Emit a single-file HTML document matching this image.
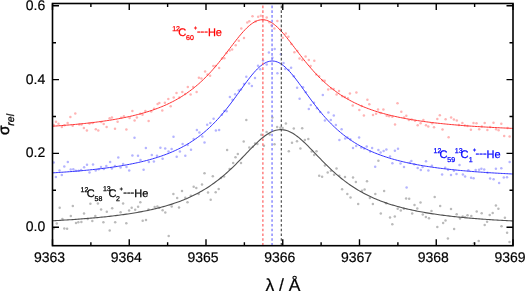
<!DOCTYPE html>
<html><head><meta charset="utf-8"><style>
html,body{margin:0;padding:0;background:#fff;}
body{width:525px;height:291px;overflow:hidden;}
svg{display:block;will-change:transform;}
text{font-family:"Liberation Sans",sans-serif;text-rendering:geometricPrecision;}
</style></head><body>
<svg width="525" height="291" viewBox="0 0 525 291">
<g fill="#ffb4b4"><circle cx="53.7" cy="125.0" r="1.25"/><circle cx="56.0" cy="121.7" r="1.25"/><circle cx="58.5" cy="123.7" r="1.25"/><circle cx="61.9" cy="127.1" r="1.25"/><circle cx="64.4" cy="125.2" r="1.25"/><circle cx="67.6" cy="123.1" r="1.25"/><circle cx="70.4" cy="116.9" r="1.25"/><circle cx="72.7" cy="125.8" r="1.25"/><circle cx="75.3" cy="113.6" r="1.25"/><circle cx="79.2" cy="124.5" r="1.25"/><circle cx="81.5" cy="124.4" r="1.25"/><circle cx="83.9" cy="128.1" r="1.25"/><circle cx="86.9" cy="130.5" r="1.25"/><circle cx="89.5" cy="123.4" r="1.25"/><circle cx="92.7" cy="122.9" r="1.25"/><circle cx="95.8" cy="129.2" r="1.25"/><circle cx="98.3" cy="130.5" r="1.25"/><circle cx="101.2" cy="122.1" r="1.25"/><circle cx="103.7" cy="124.1" r="1.25"/><circle cx="106.6" cy="126.9" r="1.25"/><circle cx="109.6" cy="118.2" r="1.25"/><circle cx="111.9" cy="117.4" r="1.25"/><circle cx="115.0" cy="128.7" r="1.25"/><circle cx="117.6" cy="121.7" r="1.25"/><circle cx="121.1" cy="117.8" r="1.25"/><circle cx="123.9" cy="116.3" r="1.25"/><circle cx="126.4" cy="129.6" r="1.25"/><circle cx="129.6" cy="118.0" r="1.25"/><circle cx="132.4" cy="111.1" r="1.25"/><circle cx="134.6" cy="120.4" r="1.25"/><circle cx="136.9" cy="117.6" r="1.25"/><circle cx="140.4" cy="113.8" r="1.25"/><circle cx="142.5" cy="114.7" r="1.25"/><circle cx="145.4" cy="111.1" r="1.25"/><circle cx="148.6" cy="121.1" r="1.25"/><circle cx="151.3" cy="111.4" r="1.25"/><circle cx="154.1" cy="108.7" r="1.25"/><circle cx="157.6" cy="103.9" r="1.25"/><circle cx="159.3" cy="103.1" r="1.25"/><circle cx="162.3" cy="110.6" r="1.25"/><circle cx="164.9" cy="102.8" r="1.25"/><circle cx="168.3" cy="98.9" r="1.25"/><circle cx="170.7" cy="106.2" r="1.25"/><circle cx="173.7" cy="97.5" r="1.25"/><circle cx="176.5" cy="93.0" r="1.25"/><circle cx="179.4" cy="97.6" r="1.25"/><circle cx="182.3" cy="91.9" r="1.25"/><circle cx="185.2" cy="94.0" r="1.25"/><circle cx="187.8" cy="87.0" r="1.25"/><circle cx="190.6" cy="94.6" r="1.25"/><circle cx="193.2" cy="87.0" r="1.25"/><circle cx="196.6" cy="91.9" r="1.25"/><circle cx="198.9" cy="77.7" r="1.25"/><circle cx="201.4" cy="78.5" r="1.25"/><circle cx="205.1" cy="71.6" r="1.25"/><circle cx="207.5" cy="74.5" r="1.25"/><circle cx="210.1" cy="75.8" r="1.25"/><circle cx="213.3" cy="65.9" r="1.25"/><circle cx="215.4" cy="66.1" r="1.25"/><circle cx="219.1" cy="68.0" r="1.25"/><circle cx="222.0" cy="58.4" r="1.25"/><circle cx="224.3" cy="58.3" r="1.25"/><circle cx="226.5" cy="52.9" r="1.25"/><circle cx="229.6" cy="50.4" r="1.25"/><circle cx="232.1" cy="49.4" r="1.25"/><circle cx="235.7" cy="45.2" r="1.25"/><circle cx="238.8" cy="40.8" r="1.25"/><circle cx="241.3" cy="28.5" r="1.25"/><circle cx="244.0" cy="38.0" r="1.25"/><circle cx="247.3" cy="22.6" r="1.25"/><circle cx="249.3" cy="21.3" r="1.25"/><circle cx="252.5" cy="16.2" r="1.25"/><circle cx="255.5" cy="21.6" r="1.25"/><circle cx="258.2" cy="16.7" r="1.25"/><circle cx="260.8" cy="15.7" r="1.25"/><circle cx="263.0" cy="19.5" r="1.25"/><circle cx="266.7" cy="17.5" r="1.25"/><circle cx="269.4" cy="22.2" r="1.25"/><circle cx="271.5" cy="25.4" r="1.25"/><circle cx="274.4" cy="28.4" r="1.25"/><circle cx="277.4" cy="20.9" r="1.25"/><circle cx="280.5" cy="29.6" r="1.25"/><circle cx="282.7" cy="37.7" r="1.25"/><circle cx="285.8" cy="33.4" r="1.25"/><circle cx="288.4" cy="36.7" r="1.25"/><circle cx="291.4" cy="44.0" r="1.25"/><circle cx="294.4" cy="52.3" r="1.25"/><circle cx="297.4" cy="51.0" r="1.25"/><circle cx="299.5" cy="58.6" r="1.25"/><circle cx="302.4" cy="60.1" r="1.25"/><circle cx="305.6" cy="56.5" r="1.25"/><circle cx="308.8" cy="60.0" r="1.25"/><circle cx="310.6" cy="65.9" r="1.25"/><circle cx="314.3" cy="60.8" r="1.25"/><circle cx="316.2" cy="74.4" r="1.25"/><circle cx="319.1" cy="76.3" r="1.25"/><circle cx="322.6" cy="80.5" r="1.25"/><circle cx="324.7" cy="80.8" r="1.25"/><circle cx="328.2" cy="89.6" r="1.25"/><circle cx="331.1" cy="88.4" r="1.25"/><circle cx="333.7" cy="89.0" r="1.25"/><circle cx="336.6" cy="94.5" r="1.25"/><circle cx="339.0" cy="91.0" r="1.25"/><circle cx="342.3" cy="96.2" r="1.25"/><circle cx="344.8" cy="97.1" r="1.25"/><circle cx="347.9" cy="98.3" r="1.25"/><circle cx="349.9" cy="93.5" r="1.25"/><circle cx="352.7" cy="105.6" r="1.25"/><circle cx="356.4" cy="92.4" r="1.25"/><circle cx="359.3" cy="109.9" r="1.25"/><circle cx="361.6" cy="106.0" r="1.25"/><circle cx="363.9" cy="115.6" r="1.25"/><circle cx="367.4" cy="99.8" r="1.25"/><circle cx="369.3" cy="104.3" r="1.25"/><circle cx="373.0" cy="115.0" r="1.25"/><circle cx="376.1" cy="113.7" r="1.25"/><circle cx="378.0" cy="109.4" r="1.25"/><circle cx="380.6" cy="113.1" r="1.25"/><circle cx="383.4" cy="109.5" r="1.25"/><circle cx="386.7" cy="115.7" r="1.25"/><circle cx="389.2" cy="116.3" r="1.25"/><circle cx="392.3" cy="116.7" r="1.25"/><circle cx="395.0" cy="124.4" r="1.25"/><circle cx="397.5" cy="103.2" r="1.25"/><circle cx="401.3" cy="111.7" r="1.25"/><circle cx="404.1" cy="117.6" r="1.25"/><circle cx="406.3" cy="115.8" r="1.25"/><circle cx="408.9" cy="120.1" r="1.25"/><circle cx="411.6" cy="119.4" r="1.25"/><circle cx="415.0" cy="120.7" r="1.25"/><circle cx="417.7" cy="125.2" r="1.25"/><circle cx="420.6" cy="123.2" r="1.25"/><circle cx="423.4" cy="120.0" r="1.25"/><circle cx="426.0" cy="125.2" r="1.25"/><circle cx="428.3" cy="126.4" r="1.25"/><circle cx="432.1" cy="123.3" r="1.25"/><circle cx="434.0" cy="127.2" r="1.25"/><circle cx="437.3" cy="119.1" r="1.25"/><circle cx="439.8" cy="115.3" r="1.25"/><circle cx="442.5" cy="129.5" r="1.25"/><circle cx="445.6" cy="119.2" r="1.25"/><circle cx="448.6" cy="137.3" r="1.25"/><circle cx="451.1" cy="117.4" r="1.25"/><circle cx="453.9" cy="119.4" r="1.25"/><circle cx="456.8" cy="120.6" r="1.25"/><circle cx="458.9" cy="125.0" r="1.25"/><circle cx="462.4" cy="123.0" r="1.25"/><circle cx="464.8" cy="125.5" r="1.25"/><circle cx="467.5" cy="125.9" r="1.25"/><circle cx="470.9" cy="129.8" r="1.25"/><circle cx="473.5" cy="122.9" r="1.25"/><circle cx="476.5" cy="123.3" r="1.25"/><circle cx="479.2" cy="129.3" r="1.25"/><circle cx="481.8" cy="126.4" r="1.25"/><circle cx="484.7" cy="123.1" r="1.25"/><circle cx="487.4" cy="130.0" r="1.25"/><circle cx="490.2" cy="127.1" r="1.25"/><circle cx="493.5" cy="122.8" r="1.25"/><circle cx="496.1" cy="129.3" r="1.25"/><circle cx="498.6" cy="130.3" r="1.25"/><circle cx="501.3" cy="123.7" r="1.25"/><circle cx="504.2" cy="136.0" r="1.25"/><circle cx="507.6" cy="128.0" r="1.25"/><circle cx="509.6" cy="136.5" r="1.25"/></g>
<g fill="#b4b4ff"><circle cx="53.7" cy="162.6" r="1.25"/><circle cx="55.9" cy="177.0" r="1.25"/><circle cx="59.5" cy="170.5" r="1.25"/><circle cx="61.8" cy="175.0" r="1.25"/><circle cx="64.3" cy="166.4" r="1.25"/><circle cx="67.8" cy="162.0" r="1.25"/><circle cx="70.7" cy="169.5" r="1.25"/><circle cx="73.3" cy="169.3" r="1.25"/><circle cx="75.8" cy="170.7" r="1.25"/><circle cx="78.7" cy="170.7" r="1.25"/><circle cx="81.1" cy="170.0" r="1.25"/><circle cx="84.1" cy="167.2" r="1.25"/><circle cx="87.0" cy="164.7" r="1.25"/><circle cx="89.5" cy="172.4" r="1.25"/><circle cx="93.0" cy="164.5" r="1.25"/><circle cx="95.7" cy="170.5" r="1.25"/><circle cx="98.6" cy="169.3" r="1.25"/><circle cx="101.0" cy="167.1" r="1.25"/><circle cx="103.8" cy="169.1" r="1.25"/><circle cx="106.3" cy="166.0" r="1.25"/><circle cx="110.1" cy="161.9" r="1.25"/><circle cx="111.9" cy="168.5" r="1.25"/><circle cx="115.0" cy="166.0" r="1.25"/><circle cx="118.3" cy="157.5" r="1.25"/><circle cx="120.6" cy="167.4" r="1.25"/><circle cx="123.1" cy="164.1" r="1.25"/><circle cx="126.5" cy="167.0" r="1.25"/><circle cx="129.2" cy="170.6" r="1.25"/><circle cx="132.4" cy="155.5" r="1.25"/><circle cx="134.5" cy="137.8" r="1.25"/><circle cx="138.0" cy="155.7" r="1.25"/><circle cx="140.5" cy="160.0" r="1.25"/><circle cx="143.6" cy="169.7" r="1.25"/><circle cx="145.9" cy="148.0" r="1.25"/><circle cx="148.9" cy="162.0" r="1.25"/><circle cx="151.8" cy="155.0" r="1.25"/><circle cx="153.9" cy="161.6" r="1.25"/><circle cx="157.0" cy="155.8" r="1.25"/><circle cx="160.4" cy="147.7" r="1.25"/><circle cx="162.6" cy="158.7" r="1.25"/><circle cx="165.2" cy="148.6" r="1.25"/><circle cx="168.5" cy="151.6" r="1.25"/><circle cx="171.6" cy="148.9" r="1.25"/><circle cx="173.5" cy="136.7" r="1.25"/><circle cx="176.7" cy="156.7" r="1.25"/><circle cx="179.9" cy="151.4" r="1.25"/><circle cx="182.6" cy="144.0" r="1.25"/><circle cx="185.3" cy="155.8" r="1.25"/><circle cx="187.7" cy="145.1" r="1.25"/><circle cx="191.0" cy="149.8" r="1.25"/><circle cx="193.7" cy="139.1" r="1.25"/><circle cx="196.9" cy="130.0" r="1.25"/><circle cx="199.4" cy="132.6" r="1.25"/><circle cx="202.3" cy="136.4" r="1.25"/><circle cx="204.5" cy="142.4" r="1.25"/><circle cx="207.2" cy="124.8" r="1.25"/><circle cx="210.3" cy="123.1" r="1.25"/><circle cx="213.6" cy="118.7" r="1.25"/><circle cx="215.9" cy="130.4" r="1.25"/><circle cx="219.1" cy="129.9" r="1.25"/><circle cx="221.9" cy="114.8" r="1.25"/><circle cx="224.3" cy="110.9" r="1.25"/><circle cx="226.6" cy="111.2" r="1.25"/><circle cx="229.9" cy="97.0" r="1.25"/><circle cx="232.5" cy="99.7" r="1.25"/><circle cx="235.1" cy="94.3" r="1.25"/><circle cx="238.8" cy="90.5" r="1.25"/><circle cx="240.9" cy="89.5" r="1.25"/><circle cx="244.0" cy="84.1" r="1.25"/><circle cx="246.3" cy="76.7" r="1.25"/><circle cx="249.1" cy="83.6" r="1.25"/><circle cx="251.9" cy="86.0" r="1.25"/><circle cx="255.0" cy="77.9" r="1.25"/><circle cx="258.0" cy="65.7" r="1.25"/><circle cx="260.2" cy="69.3" r="1.25"/><circle cx="263.0" cy="60.4" r="1.25"/><circle cx="266.7" cy="64.5" r="1.25"/><circle cx="268.9" cy="52.5" r="1.25"/><circle cx="272.4" cy="57.7" r="1.25"/><circle cx="274.7" cy="49.0" r="1.25"/><circle cx="277.4" cy="73.2" r="1.25"/><circle cx="280.9" cy="54.2" r="1.25"/><circle cx="283.5" cy="63.0" r="1.25"/><circle cx="285.3" cy="69.0" r="1.25"/><circle cx="288.6" cy="69.9" r="1.25"/><circle cx="291.1" cy="67.8" r="1.25"/><circle cx="293.8" cy="76.3" r="1.25"/><circle cx="297.1" cy="87.7" r="1.25"/><circle cx="299.6" cy="98.7" r="1.25"/><circle cx="303.0" cy="87.2" r="1.25"/><circle cx="305.8" cy="92.2" r="1.25"/><circle cx="308.8" cy="108.9" r="1.25"/><circle cx="310.8" cy="104.9" r="1.25"/><circle cx="314.0" cy="102.7" r="1.25"/><circle cx="317.0" cy="108.2" r="1.25"/><circle cx="320.1" cy="111.9" r="1.25"/><circle cx="322.8" cy="95.0" r="1.25"/><circle cx="324.9" cy="120.6" r="1.25"/><circle cx="328.4" cy="112.6" r="1.25"/><circle cx="330.8" cy="119.9" r="1.25"/><circle cx="333.8" cy="115.4" r="1.25"/><circle cx="335.9" cy="124.9" r="1.25"/><circle cx="339.4" cy="139.9" r="1.25"/><circle cx="341.6" cy="129.3" r="1.25"/><circle cx="345.2" cy="138.5" r="1.25"/><circle cx="347.4" cy="137.5" r="1.25"/><circle cx="350.3" cy="139.2" r="1.25"/><circle cx="353.0" cy="148.0" r="1.25"/><circle cx="356.2" cy="145.9" r="1.25"/><circle cx="359.1" cy="137.6" r="1.25"/><circle cx="361.2" cy="147.6" r="1.25"/><circle cx="364.1" cy="148.6" r="1.25"/><circle cx="366.7" cy="146.5" r="1.25"/><circle cx="370.2" cy="151.4" r="1.25"/><circle cx="372.1" cy="147.9" r="1.25"/><circle cx="375.2" cy="166.7" r="1.25"/><circle cx="378.4" cy="149.9" r="1.25"/><circle cx="380.6" cy="152.6" r="1.25"/><circle cx="383.6" cy="151.1" r="1.25"/><circle cx="386.4" cy="149.5" r="1.25"/><circle cx="390.0" cy="156.4" r="1.25"/><circle cx="392.4" cy="163.2" r="1.25"/><circle cx="394.9" cy="150.7" r="1.25"/><circle cx="398.0" cy="148.7" r="1.25"/><circle cx="400.5" cy="163.4" r="1.25"/><circle cx="404.0" cy="167.0" r="1.25"/><circle cx="406.6" cy="187.6" r="1.25"/><circle cx="409.7" cy="162.8" r="1.25"/><circle cx="411.4" cy="161.0" r="1.25"/><circle cx="414.4" cy="164.3" r="1.25"/><circle cx="417.7" cy="168.0" r="1.25"/><circle cx="420.8" cy="170.0" r="1.25"/><circle cx="422.6" cy="167.0" r="1.25"/><circle cx="426.0" cy="161.3" r="1.25"/><circle cx="428.4" cy="170.6" r="1.25"/><circle cx="431.9" cy="165.7" r="1.25"/><circle cx="442.1" cy="174.5" r="1.25"/><circle cx="445.2" cy="167.7" r="1.25"/><circle cx="448.1" cy="169.7" r="1.25"/><circle cx="451.0" cy="175.1" r="1.25"/><circle cx="453.9" cy="170.8" r="1.25"/><circle cx="456.5" cy="174.0" r="1.25"/><circle cx="459.5" cy="165.1" r="1.25"/><circle cx="462.9" cy="174.4" r="1.25"/><circle cx="465.1" cy="176.4" r="1.25"/><circle cx="468.4" cy="170.2" r="1.25"/><circle cx="471.1" cy="177.7" r="1.25"/><circle cx="473.6" cy="178.3" r="1.25"/><circle cx="475.7" cy="169.9" r="1.25"/><circle cx="479.1" cy="169.7" r="1.25"/><circle cx="481.4" cy="168.8" r="1.25"/><circle cx="484.2" cy="169.5" r="1.25"/><circle cx="487.5" cy="172.7" r="1.25"/><circle cx="490.1" cy="178.6" r="1.25"/><circle cx="493.6" cy="179.3" r="1.25"/><circle cx="495.9" cy="168.7" r="1.25"/><circle cx="499.1" cy="183.1" r="1.25"/><circle cx="501.3" cy="168.3" r="1.25"/><circle cx="503.8" cy="177.4" r="1.25"/><circle cx="507.0" cy="177.2" r="1.25"/><circle cx="509.6" cy="161.9" r="1.25"/></g>
<g fill="#bababa"><circle cx="53.7" cy="228.4" r="1.25"/><circle cx="56.8" cy="223.5" r="1.25"/><circle cx="59.7" cy="207.8" r="1.25"/><circle cx="62.4" cy="219.0" r="1.25"/><circle cx="64.3" cy="228.5" r="1.25"/><circle cx="67.1" cy="228.7" r="1.25"/><circle cx="70.8" cy="216.0" r="1.25"/><circle cx="72.8" cy="205.9" r="1.25"/><circle cx="76.0" cy="223.0" r="1.25"/><circle cx="78.3" cy="222.3" r="1.25"/><circle cx="81.4" cy="221.9" r="1.25"/><circle cx="84.0" cy="213.4" r="1.25"/><circle cx="87.6" cy="218.9" r="1.25"/><circle cx="90.4" cy="203.8" r="1.25"/><circle cx="92.3" cy="221.0" r="1.25"/><circle cx="95.3" cy="216.0" r="1.25"/><circle cx="97.9" cy="203.5" r="1.25"/><circle cx="101.1" cy="209.5" r="1.25"/><circle cx="103.4" cy="222.2" r="1.25"/><circle cx="106.8" cy="211.8" r="1.25"/><circle cx="109.7" cy="230.4" r="1.25"/><circle cx="112.2" cy="208.2" r="1.25"/><circle cx="115.2" cy="222.3" r="1.25"/><circle cx="120.6" cy="212.2" r="1.25"/><circle cx="123.1" cy="203.6" r="1.25"/><circle cx="126.3" cy="223.3" r="1.25"/><circle cx="129.1" cy="210.5" r="1.25"/><circle cx="131.7" cy="207.8" r="1.25"/><circle cx="135.2" cy="209.8" r="1.25"/><circle cx="138.1" cy="206.7" r="1.25"/><circle cx="140.3" cy="202.3" r="1.25"/><circle cx="142.7" cy="220.8" r="1.25"/><circle cx="146.0" cy="220.0" r="1.25"/><circle cx="148.5" cy="209.4" r="1.25"/><circle cx="154.7" cy="207.0" r="1.25"/><circle cx="157.4" cy="206.5" r="1.25"/><circle cx="159.4" cy="207.7" r="1.25"/><circle cx="162.6" cy="210.2" r="1.25"/><circle cx="165.3" cy="212.5" r="1.25"/><circle cx="168.7" cy="236.1" r="1.25"/><circle cx="171.7" cy="206.6" r="1.25"/><circle cx="173.4" cy="194.1" r="1.25"/><circle cx="177.2" cy="198.0" r="1.25"/><circle cx="179.0" cy="207.6" r="1.25"/><circle cx="182.0" cy="190.9" r="1.25"/><circle cx="185.3" cy="197.7" r="1.25"/><circle cx="187.5" cy="202.2" r="1.25"/><circle cx="190.8" cy="195.7" r="1.25"/><circle cx="193.7" cy="186.7" r="1.25"/><circle cx="196.3" cy="188.1" r="1.25"/><circle cx="198.6" cy="194.1" r="1.25"/><circle cx="202.0" cy="184.6" r="1.25"/><circle cx="204.5" cy="173.3" r="1.25"/><circle cx="208.0" cy="192.4" r="1.25"/><circle cx="210.7" cy="199.7" r="1.25"/><circle cx="212.8" cy="176.2" r="1.25"/><circle cx="215.7" cy="192.3" r="1.25"/><circle cx="218.7" cy="188.9" r="1.25"/><circle cx="221.0" cy="178.1" r="1.25"/><circle cx="224.1" cy="176.6" r="1.25"/><circle cx="227.1" cy="150.1" r="1.25"/><circle cx="229.6" cy="168.9" r="1.25"/><circle cx="233.2" cy="162.9" r="1.25"/><circle cx="235.5" cy="157.2" r="1.25"/><circle cx="237.8" cy="154.1" r="1.25"/><circle cx="241.0" cy="163.0" r="1.25"/><circle cx="243.7" cy="141.6" r="1.25"/><circle cx="246.3" cy="120.1" r="1.25"/><circle cx="249.3" cy="147.4" r="1.25"/><circle cx="252.8" cy="146.7" r="1.25"/><circle cx="255.0" cy="143.4" r="1.25"/><circle cx="257.4" cy="144.1" r="1.25"/><circle cx="261.3" cy="134.8" r="1.25"/><circle cx="263.9" cy="145.7" r="1.25"/><circle cx="266.6" cy="132.1" r="1.25"/><circle cx="269.7" cy="134.5" r="1.25"/><circle cx="272.4" cy="117.5" r="1.25"/><circle cx="274.5" cy="144.2" r="1.25"/><circle cx="277.1" cy="127.1" r="1.25"/><circle cx="280.4" cy="127.7" r="1.25"/><circle cx="282.6" cy="128.1" r="1.25"/><circle cx="285.9" cy="123.5" r="1.25"/><circle cx="288.8" cy="151.2" r="1.25"/><circle cx="292.0" cy="142.8" r="1.25"/><circle cx="293.8" cy="128.5" r="1.25"/><circle cx="297.0" cy="141.3" r="1.25"/><circle cx="300.4" cy="148.4" r="1.25"/><circle cx="302.2" cy="128.2" r="1.25"/><circle cx="304.9" cy="140.0" r="1.25"/><circle cx="308.3" cy="138.9" r="1.25"/><circle cx="311.7" cy="151.6" r="1.25"/><circle cx="314.2" cy="155.1" r="1.25"/><circle cx="316.5" cy="151.2" r="1.25"/><circle cx="319.2" cy="175.7" r="1.25"/><circle cx="322.1" cy="176.8" r="1.25"/><circle cx="324.9" cy="165.4" r="1.25"/><circle cx="327.7" cy="172.6" r="1.25"/><circle cx="330.9" cy="170.7" r="1.25"/><circle cx="334.1" cy="174.8" r="1.25"/><circle cx="336.5" cy="168.6" r="1.25"/><circle cx="339.3" cy="175.8" r="1.25"/><circle cx="342.1" cy="189.2" r="1.25"/><circle cx="345.0" cy="177.0" r="1.25"/><circle cx="347.3" cy="194.1" r="1.25"/><circle cx="350.5" cy="197.4" r="1.25"/><circle cx="353.0" cy="177.5" r="1.25"/><circle cx="355.9" cy="181.9" r="1.25"/><circle cx="358.2" cy="203.9" r="1.25"/><circle cx="362.0" cy="190.7" r="1.25"/><circle cx="364.6" cy="189.5" r="1.25"/><circle cx="367.0" cy="181.3" r="1.25"/><circle cx="369.9" cy="197.9" r="1.25"/><circle cx="372.9" cy="203.9" r="1.25"/><circle cx="375.3" cy="194.0" r="1.25"/><circle cx="378.4" cy="160.7" r="1.25"/><circle cx="380.8" cy="213.4" r="1.25"/><circle cx="384.1" cy="190.9" r="1.25"/><circle cx="386.2" cy="203.2" r="1.25"/><circle cx="390.0" cy="217.6" r="1.25"/><circle cx="392.3" cy="224.2" r="1.25"/><circle cx="394.8" cy="216.4" r="1.25"/><circle cx="397.7" cy="208.8" r="1.25"/><circle cx="400.8" cy="210.5" r="1.25"/><circle cx="403.9" cy="208.7" r="1.25"/><circle cx="406.1" cy="198.6" r="1.25"/><circle cx="409.2" cy="198.7" r="1.25"/><circle cx="412.2" cy="213.4" r="1.25"/><circle cx="414.5" cy="205.1" r="1.25"/><circle cx="417.3" cy="208.5" r="1.25"/><circle cx="420.5" cy="202.5" r="1.25"/><circle cx="422.8" cy="214.6" r="1.25"/><circle cx="425.9" cy="217.0" r="1.25"/><circle cx="429.0" cy="218.2" r="1.25"/><circle cx="431.5" cy="211.1" r="1.25"/><circle cx="434.7" cy="197.0" r="1.25"/><circle cx="437.3" cy="227.1" r="1.25"/><circle cx="440.2" cy="205.9" r="1.25"/><circle cx="443.1" cy="223.1" r="1.25"/><circle cx="445.5" cy="220.6" r="1.25"/><circle cx="447.9" cy="238.5" r="1.25"/><circle cx="451.0" cy="208.9" r="1.25"/><circle cx="454.1" cy="229.0" r="1.25"/><circle cx="456.7" cy="214.2" r="1.25"/><circle cx="460.0" cy="218.6" r="1.25"/><circle cx="462.7" cy="216.6" r="1.25"/><circle cx="465.0" cy="217.3" r="1.25"/><circle cx="467.5" cy="215.2" r="1.25"/><circle cx="471.3" cy="216.0" r="1.25"/><circle cx="474.0" cy="243.3" r="1.25"/><circle cx="476.7" cy="211.5" r="1.25"/><circle cx="478.7" cy="240.9" r="1.25"/><circle cx="481.7" cy="213.3" r="1.25"/><circle cx="484.7" cy="224.9" r="1.25"/><circle cx="487.1" cy="221.8" r="1.25"/><circle cx="489.7" cy="215.0" r="1.25"/><circle cx="492.7" cy="213.1" r="1.25"/><circle cx="495.9" cy="205.5" r="1.25"/><circle cx="498.4" cy="208.8" r="1.25"/><circle cx="501.5" cy="226.3" r="1.25"/><circle cx="504.9" cy="217.8" r="1.25"/><circle cx="507.1" cy="232.7" r="1.25"/><circle cx="509.5" cy="242.0" r="1.25"/></g>
<path d="M52.50,126.23 L54.04,126.12 L55.58,126.01 L57.12,125.90 L58.66,125.79 L60.20,125.67 L61.74,125.56 L63.28,125.44 L64.82,125.31 L66.36,125.19 L67.90,125.06 L69.44,124.93 L70.98,124.80 L72.52,124.66 L74.06,124.52 L75.60,124.38 L77.14,124.23 L78.68,124.09 L80.22,123.93 L81.76,123.78 L83.30,123.62 L84.84,123.46 L86.38,123.29 L87.92,123.12 L89.46,122.95 L91.00,122.77 L92.54,122.58 L94.08,122.40 L95.62,122.21 L97.16,122.01 L98.70,121.81 L100.24,121.60 L101.78,121.39 L103.32,121.18 L104.86,120.95 L106.40,120.73 L107.94,120.49 L109.48,120.26 L111.03,120.01 L112.57,119.76 L114.11,119.50 L115.65,119.24 L117.19,118.96 L118.73,118.69 L120.27,118.40 L121.81,118.11 L123.35,117.80 L124.89,117.49 L126.43,117.17 L127.97,116.85 L129.51,116.51 L131.05,116.16 L132.59,115.81 L134.13,115.44 L135.67,115.06 L137.21,114.68 L138.75,114.28 L140.29,113.87 L141.83,113.44 L143.37,113.01 L144.91,112.56 L146.45,112.10 L147.99,111.62 L149.53,111.13 L151.07,110.63 L152.61,110.11 L154.15,109.57 L155.69,109.02 L157.23,108.45 L158.77,107.86 L160.31,107.26 L161.85,106.63 L163.39,105.99 L164.93,105.32 L166.47,104.63 L168.01,103.92 L169.55,103.19 L171.09,102.43 L172.63,101.65 L174.17,100.85 L175.71,100.01 L177.25,99.15 L178.79,98.27 L180.33,97.35 L181.87,96.40 L183.41,95.42 L184.95,94.41 L186.49,93.37 L188.03,92.29 L189.57,91.18 L191.11,90.03 L192.65,88.85 L194.19,87.63 L195.73,86.37 L197.27,85.07 L198.81,83.73 L200.35,82.34 L201.89,80.92 L203.43,79.46 L204.97,77.95 L206.51,76.40 L208.05,74.81 L209.59,73.17 L211.13,71.50 L212.67,69.78 L214.21,68.02 L215.75,66.22 L217.29,64.39 L218.83,62.51 L220.37,60.61 L221.91,58.68 L223.45,56.71 L224.99,54.73 L226.54,52.73 L228.08,50.71 L229.62,48.68 L231.16,46.66 L232.70,44.64 L234.24,42.63 L235.78,40.65 L237.32,38.69 L238.86,36.78 L240.40,34.91 L241.94,33.11 L243.48,31.37 L245.02,29.72 L246.56,28.16 L248.10,26.70 L249.64,25.36 L251.18,24.14 L252.72,23.05 L254.26,22.10 L255.80,21.31 L257.34,20.67 L258.88,20.19 L260.42,19.88 L261.96,19.74 L263.50,19.76 L265.04,19.96 L266.58,20.33 L268.12,20.86 L269.66,21.55 L271.20,22.40 L272.74,23.39 L274.28,24.52 L275.82,25.79 L277.36,27.17 L278.90,28.66 L280.44,30.25 L281.98,31.94 L283.52,33.69 L285.06,35.52 L286.60,37.40 L288.14,39.33 L289.68,41.30 L291.22,43.29 L292.76,45.30 L294.30,47.32 L295.84,49.35 L297.38,51.37 L298.92,53.39 L300.46,55.38 L302.00,57.36 L303.54,59.31 L305.08,61.24 L306.62,63.13 L308.16,64.99 L309.70,66.82 L311.24,68.60 L312.78,70.35 L314.32,72.05 L315.86,73.72 L317.40,75.34 L318.94,76.91 L320.48,78.45 L322.02,79.94 L323.56,81.39 L325.10,82.80 L326.64,84.17 L328.18,85.50 L329.72,86.79 L331.26,88.03 L332.80,89.24 L334.34,90.42 L335.88,91.55 L337.42,92.65 L338.96,93.72 L340.51,94.75 L342.05,95.75 L343.59,96.72 L345.13,97.65 L346.67,98.56 L348.21,99.44 L349.75,100.29 L351.29,101.11 L352.83,101.91 L354.37,102.68 L355.91,103.43 L357.45,104.16 L358.99,104.86 L360.53,105.54 L362.07,106.20 L363.61,106.84 L365.15,107.46 L366.69,108.06 L368.23,108.64 L369.77,109.20 L371.31,109.75 L372.85,110.28 L374.39,110.80 L375.93,111.30 L377.47,111.78 L379.01,112.25 L380.55,112.71 L382.09,113.15 L383.63,113.58 L385.17,114.00 L386.71,114.41 L388.25,114.80 L389.79,115.19 L391.33,115.56 L392.87,115.92 L394.41,116.28 L395.95,116.62 L397.49,116.95 L399.03,117.28 L400.57,117.60 L402.11,117.90 L403.65,118.20 L405.19,118.49 L406.73,118.78 L408.27,119.05 L409.81,119.32 L411.35,119.59 L412.89,119.84 L414.43,120.09 L415.97,120.33 L417.51,120.57 L419.05,120.80 L420.59,121.03 L422.13,121.25 L423.67,121.46 L425.21,121.67 L426.75,121.88 L428.29,122.07 L429.83,122.27 L431.37,122.46 L432.91,122.65 L434.45,122.83 L435.99,123.00 L437.53,123.18 L439.07,123.35 L440.61,123.51 L442.15,123.67 L443.69,123.83 L445.23,123.98 L446.77,124.14 L448.31,124.28 L449.85,124.43 L451.39,124.57 L452.93,124.71 L454.47,124.84 L456.02,124.97 L457.56,125.10 L459.10,125.23 L460.64,125.36 L462.18,125.48 L463.72,125.60 L465.26,125.71 L466.80,125.83 L468.34,125.94 L469.88,126.05 L471.42,126.16 L472.96,126.26 L474.50,126.37 L476.04,126.47 L477.58,126.57 L479.12,126.66 L480.66,126.76 L482.20,126.85 L483.74,126.94 L485.28,127.03 L486.82,127.12 L488.36,127.21 L489.90,127.29 L491.44,127.38 L492.98,127.46 L494.52,127.54 L496.06,127.62 L497.60,127.70 L499.14,127.77 L500.68,127.85 L502.22,127.92 L503.76,127.99 L505.30,128.06 L506.84,128.13 L508.38,128.20 L509.92,128.27 L511.46,128.34 L513.00,128.40" fill="none" stroke="#ff3030" stroke-width="1.0"/>
<path d="M52.50,172.87 L54.04,172.77 L55.58,172.68 L57.12,172.58 L58.66,172.47 L60.20,172.37 L61.74,172.27 L63.28,172.16 L64.82,172.05 L66.36,171.94 L67.90,171.82 L69.44,171.70 L70.98,171.58 L72.52,171.46 L74.06,171.34 L75.60,171.21 L77.14,171.08 L78.68,170.95 L80.22,170.81 L81.76,170.68 L83.30,170.53 L84.84,170.39 L86.38,170.24 L87.92,170.09 L89.46,169.94 L91.00,169.78 L92.54,169.62 L94.08,169.45 L95.62,169.28 L97.16,169.11 L98.70,168.93 L100.24,168.75 L101.78,168.56 L103.32,168.37 L104.86,168.18 L106.40,167.98 L107.94,167.78 L109.48,167.57 L111.03,167.35 L112.57,167.13 L114.11,166.91 L115.65,166.68 L117.19,166.44 L118.73,166.20 L120.27,165.95 L121.81,165.69 L123.35,165.43 L124.89,165.16 L126.43,164.89 L127.97,164.60 L129.51,164.31 L131.05,164.01 L132.59,163.70 L134.13,163.39 L135.67,163.06 L137.21,162.73 L138.75,162.39 L140.29,162.04 L141.83,161.67 L143.37,161.30 L144.91,160.92 L146.45,160.52 L147.99,160.12 L149.53,159.70 L151.07,159.27 L152.61,158.83 L154.15,158.37 L155.69,157.90 L157.23,157.42 L158.77,156.92 L160.31,156.41 L161.85,155.88 L163.39,155.33 L164.93,154.77 L166.47,154.19 L168.01,153.59 L169.55,152.97 L171.09,152.33 L172.63,151.67 L174.17,150.99 L175.71,150.29 L177.25,149.57 L178.79,148.82 L180.33,148.05 L181.87,147.25 L183.41,146.43 L184.95,145.58 L186.49,144.70 L188.03,143.79 L189.57,142.85 L191.11,141.88 L192.65,140.88 L194.19,139.85 L195.73,138.78 L197.27,137.68 L198.81,136.54 L200.35,135.36 L201.89,134.15 L203.43,132.89 L204.97,131.60 L206.51,130.26 L208.05,128.88 L209.59,127.46 L211.13,125.99 L212.67,124.48 L214.21,122.93 L215.75,121.33 L217.29,119.68 L218.83,117.99 L220.37,116.26 L221.91,114.48 L223.45,112.65 L224.99,110.79 L226.54,108.88 L228.08,106.93 L229.62,104.94 L231.16,102.92 L232.70,100.87 L234.24,98.80 L235.78,96.70 L237.32,94.58 L238.86,92.45 L240.40,90.31 L241.94,88.18 L243.48,86.05 L245.02,83.95 L246.56,81.87 L248.10,79.82 L249.64,77.83 L251.18,75.89 L252.72,74.03 L254.26,72.24 L255.80,70.55 L257.34,68.96 L258.88,67.49 L260.42,66.14 L261.96,64.93 L263.50,63.87 L265.04,62.97 L266.58,62.23 L268.12,61.66 L269.66,61.26 L271.20,61.05 L272.74,61.02 L274.28,61.16 L275.82,61.49 L277.36,62.00 L278.90,62.68 L280.44,63.52 L281.98,64.52 L283.52,65.68 L285.06,66.97 L286.60,68.40 L288.14,69.95 L289.68,71.60 L291.22,73.36 L292.76,75.20 L294.30,77.11 L295.84,79.08 L297.38,81.11 L298.92,83.18 L300.46,85.27 L302.00,87.39 L303.54,89.52 L305.08,91.66 L306.62,93.79 L308.16,95.92 L309.70,98.02 L311.24,100.11 L312.78,102.17 L314.32,104.20 L315.86,106.20 L317.40,108.16 L318.94,110.09 L320.48,111.97 L322.02,113.81 L323.56,115.61 L325.10,117.36 L326.64,119.07 L328.18,120.73 L329.72,122.34 L331.26,123.91 L332.80,125.44 L334.34,126.92 L335.88,128.36 L337.42,129.76 L338.96,131.11 L340.51,132.42 L342.05,133.69 L343.59,134.92 L345.13,136.11 L346.67,137.26 L348.21,138.38 L349.75,139.46 L351.29,140.51 L352.83,141.52 L354.37,142.50 L355.91,143.45 L357.45,144.37 L358.99,145.26 L360.53,146.12 L362.07,146.95 L363.61,147.76 L365.15,148.54 L366.69,149.30 L368.23,150.03 L369.77,150.74 L371.31,151.42 L372.85,152.09 L374.39,152.74 L375.93,153.36 L377.47,153.97 L379.01,154.55 L380.55,155.12 L382.09,155.68 L383.63,156.21 L385.17,156.73 L386.71,157.24 L388.25,157.73 L389.79,158.20 L391.33,158.66 L392.87,159.11 L394.41,159.54 L395.95,159.97 L397.49,160.38 L399.03,160.77 L400.57,161.16 L402.11,161.54 L403.65,161.90 L405.19,162.26 L406.73,162.61 L408.27,162.94 L409.81,163.27 L411.35,163.59 L412.89,163.90 L414.43,164.20 L415.97,164.50 L417.51,164.78 L419.05,165.06 L420.59,165.33 L422.13,165.60 L423.67,165.85 L425.21,166.11 L426.75,166.35 L428.29,166.59 L429.83,166.82 L431.37,167.05 L432.91,167.27 L434.45,167.49 L435.99,167.70 L437.53,167.91 L439.07,168.11 L440.61,168.30 L442.15,168.50 L443.69,168.68 L445.23,168.87 L446.77,169.04 L448.31,169.22 L449.85,169.39 L451.39,169.56 L452.93,169.72 L454.47,169.88 L456.02,170.03 L457.56,170.19 L459.10,170.34 L460.64,170.48 L462.18,170.62 L463.72,170.76 L465.26,170.90 L466.80,171.03 L468.34,171.16 L469.88,171.29 L471.42,171.42 L472.96,171.54 L474.50,171.66 L476.04,171.78 L477.58,171.89 L479.12,172.01 L480.66,172.12 L482.20,172.23 L483.74,172.33 L485.28,172.44 L486.82,172.54 L488.36,172.64 L489.90,172.74 L491.44,172.83 L492.98,172.93 L494.52,173.02 L496.06,173.11 L497.60,173.20 L499.14,173.29 L500.68,173.38 L502.22,173.46 L503.76,173.54 L505.30,173.62 L506.84,173.70 L508.38,173.78 L509.92,173.86 L511.46,173.94 L513.00,174.01" fill="none" stroke="#3030ff" stroke-width="1.0"/>
<path d="M52.50,220.77 L54.04,220.69 L55.58,220.61 L57.12,220.52 L58.66,220.43 L60.20,220.35 L61.74,220.26 L63.28,220.16 L64.82,220.07 L66.36,219.98 L67.90,219.88 L69.44,219.78 L70.98,219.68 L72.52,219.58 L74.06,219.47 L75.60,219.36 L77.14,219.25 L78.68,219.14 L80.22,219.03 L81.76,218.91 L83.30,218.79 L84.84,218.67 L86.38,218.55 L87.92,218.42 L89.46,218.29 L91.00,218.16 L92.54,218.03 L94.08,217.89 L95.62,217.75 L97.16,217.61 L98.70,217.46 L100.24,217.31 L101.78,217.16 L103.32,217.00 L104.86,216.84 L106.40,216.68 L107.94,216.51 L109.48,216.34 L111.03,216.16 L112.57,215.98 L114.11,215.80 L115.65,215.61 L117.19,215.42 L118.73,215.22 L120.27,215.02 L121.81,214.81 L123.35,214.60 L124.89,214.38 L126.43,214.16 L127.97,213.93 L129.51,213.69 L131.05,213.45 L132.59,213.21 L134.13,212.96 L135.67,212.70 L137.21,212.43 L138.75,212.16 L140.29,211.88 L141.83,211.59 L143.37,211.30 L144.91,211.00 L146.45,210.68 L147.99,210.37 L149.53,210.04 L151.07,209.70 L152.61,209.36 L154.15,209.00 L155.69,208.64 L157.23,208.26 L158.77,207.87 L160.31,207.48 L161.85,207.07 L163.39,206.65 L164.93,206.22 L166.47,205.77 L168.01,205.32 L169.55,204.85 L171.09,204.36 L172.63,203.86 L174.17,203.35 L175.71,202.82 L177.25,202.28 L178.79,201.72 L180.33,201.14 L181.87,200.54 L183.41,199.93 L184.95,199.30 L186.49,198.65 L188.03,197.98 L189.57,197.29 L191.11,196.58 L192.65,195.85 L194.19,195.09 L195.73,194.31 L197.27,193.51 L198.81,192.69 L200.35,191.83 L201.89,190.96 L203.43,190.05 L204.97,189.12 L206.51,188.17 L208.05,187.18 L209.59,186.17 L211.13,185.12 L212.67,184.05 L214.21,182.94 L215.75,181.81 L217.29,180.64 L218.83,179.45 L220.37,178.22 L221.91,176.96 L223.45,175.67 L224.99,174.34 L226.54,172.99 L228.08,171.61 L229.62,170.19 L231.16,168.75 L232.70,167.28 L234.24,165.79 L235.78,164.27 L237.32,162.73 L238.86,161.17 L240.40,159.59 L241.94,158.00 L243.48,156.40 L245.02,154.80 L246.56,153.19 L248.10,151.58 L249.64,149.98 L251.18,148.39 L252.72,146.83 L254.26,145.29 L255.80,143.78 L257.34,142.31 L258.88,140.88 L260.42,139.51 L261.96,138.20 L263.50,136.95 L265.04,135.79 L266.58,134.70 L268.12,133.71 L269.66,132.81 L271.20,132.01 L272.74,131.32 L274.28,130.75 L275.82,130.29 L277.36,129.95 L278.90,129.74 L280.44,129.65 L281.98,129.69 L283.52,129.85 L285.06,130.14 L286.60,130.55 L288.14,131.08 L289.68,131.72 L291.22,132.48 L292.76,133.34 L294.30,134.29 L295.84,135.34 L297.38,136.48 L298.92,137.69 L300.46,138.98 L302.00,140.33 L303.54,141.73 L305.08,143.19 L306.62,144.68 L308.16,146.21 L309.70,147.77 L311.24,149.35 L312.78,150.94 L314.32,152.55 L315.86,154.16 L317.40,155.76 L318.94,157.37 L320.48,158.96 L322.02,160.55 L323.56,162.11 L325.10,163.66 L326.64,165.19 L328.18,166.69 L329.72,168.17 L331.26,169.62 L332.80,171.05 L334.34,172.44 L335.88,173.81 L337.42,175.14 L338.96,176.45 L340.51,177.72 L342.05,178.96 L343.59,180.17 L345.13,181.35 L346.67,182.50 L348.21,183.61 L349.75,184.70 L351.29,185.75 L352.83,186.78 L354.37,187.78 L355.91,188.75 L357.45,189.69 L358.99,190.60 L360.53,191.49 L362.07,192.35 L363.61,193.19 L365.15,194.00 L366.69,194.78 L368.23,195.55 L369.77,196.29 L371.31,197.01 L372.85,197.71 L374.39,198.39 L375.93,199.04 L377.47,199.68 L379.01,200.30 L380.55,200.90 L382.09,201.49 L383.63,202.06 L385.17,202.61 L386.71,203.14 L388.25,203.66 L389.79,204.16 L391.33,204.65 L392.87,205.13 L394.41,205.59 L395.95,206.04 L397.49,206.48 L399.03,206.90 L400.57,207.32 L402.11,207.72 L403.65,208.11 L405.19,208.49 L406.73,208.86 L408.27,209.22 L409.81,209.57 L411.35,209.91 L412.89,210.24 L414.43,210.56 L415.97,210.87 L417.51,211.18 L419.05,211.48 L420.59,211.77 L422.13,212.05 L423.67,212.32 L425.21,212.59 L426.75,212.85 L428.29,213.11 L429.83,213.36 L431.37,213.60 L432.91,213.84 L434.45,214.07 L435.99,214.29 L437.53,214.51 L439.07,214.73 L440.61,214.93 L442.15,215.14 L443.69,215.34 L445.23,215.53 L446.77,215.72 L448.31,215.91 L449.85,216.09 L451.39,216.27 L452.93,216.44 L454.47,216.61 L456.02,216.77 L457.56,216.94 L459.10,217.09 L460.64,217.25 L462.18,217.40 L463.72,217.55 L465.26,217.69 L466.80,217.84 L468.34,217.97 L469.88,218.11 L471.42,218.24 L472.96,218.37 L474.50,218.50 L476.04,218.62 L477.58,218.75 L479.12,218.87 L480.66,218.98 L482.20,219.10 L483.74,219.21 L485.28,219.32 L486.82,219.43 L488.36,219.53 L489.90,219.64 L491.44,219.74 L492.98,219.84 L494.52,219.94 L496.06,220.03 L497.60,220.13 L499.14,220.22 L500.68,220.31 L502.22,220.40 L503.76,220.49 L505.30,220.57 L506.84,220.66 L508.38,220.74 L509.92,220.82 L511.46,220.90 L513.00,220.98" fill="none" stroke="#505050" stroke-width="1.1"/>
<line x1="262.9" y1="3.5" x2="262.9" y2="245.7" stroke="#ff5050" stroke-width="1.1" stroke-dasharray="2.6,2.146" stroke-dashoffset="2.646"/>
<line x1="272.05" y1="3.5" x2="272.05" y2="245.7" stroke="#6060ff" stroke-width="1.1" stroke-dasharray="2.6,2.146" stroke-dashoffset="2.646"/>
<line x1="281.3" y1="3.5" x2="281.3" y2="245.7" stroke="#404040" stroke-width="1.1" stroke-dasharray="2.6,2.146" stroke-dashoffset="2.646"/>
<rect x="52.5" y="3.5" width="460.5" height="242.2" fill="none" stroke="#000" stroke-width="1.6"/>
<path d="M52.50,245.7V239.20M52.50,3.5V10.00M90.88,245.7V242.20M90.88,3.5V7.00M129.25,245.7V239.20M129.25,3.5V10.00M167.62,245.7V242.20M167.62,3.5V7.00M206.00,245.7V239.20M206.00,3.5V10.00M244.38,245.7V242.20M244.38,3.5V7.00M282.75,245.7V239.20M282.75,3.5V10.00M321.12,245.7V242.20M321.12,3.5V7.00M359.50,245.7V239.20M359.50,3.5V10.00M397.88,245.7V242.20M397.88,3.5V7.00M436.25,245.7V239.20M436.25,3.5V10.00M474.62,245.7V242.20M474.62,3.5V7.00M513.00,245.7V239.20M513.00,3.5V10.00M52.5,227.20H59.00M513.0,227.20H506.50M52.5,190.30H56.00M513.0,190.30H509.50M52.5,153.40H59.00M513.0,153.40H506.50M52.5,116.50H56.00M513.0,116.50H509.50M52.5,79.60H59.00M513.0,79.60H506.50M52.5,42.70H56.00M513.0,42.70H509.50M52.5,5.80H59.00M513.0,5.80H506.50" stroke="#000" stroke-width="1.4" fill="none"/>
<text x="49.50" y="262.1" font-size="14" text-anchor="middle" stroke="#000" stroke-width="0.2">9363</text>
<text x="126.25" y="262.1" font-size="14" text-anchor="middle" stroke="#000" stroke-width="0.2">9364</text>
<text x="203.00" y="262.1" font-size="14" text-anchor="middle" stroke="#000" stroke-width="0.2">9365</text>
<text x="279.75" y="262.1" font-size="14" text-anchor="middle" stroke="#000" stroke-width="0.2">9366</text>
<text x="356.50" y="262.1" font-size="14" text-anchor="middle" stroke="#000" stroke-width="0.2">9367</text>
<text x="433.25" y="262.1" font-size="14" text-anchor="middle" stroke="#000" stroke-width="0.2">9368</text>
<text x="510.00" y="262.1" font-size="14" text-anchor="middle" stroke="#000" stroke-width="0.2">9369</text>
<text x="45.3" y="231.20" font-size="14" text-anchor="end" stroke="#000" stroke-width="0.2">0.0</text>
<text x="45.3" y="157.40" font-size="14" text-anchor="end" stroke="#000" stroke-width="0.2">0.2</text>
<text x="45.3" y="83.60" font-size="14" text-anchor="end" stroke="#000" stroke-width="0.2">0.4</text>
<text x="45.3" y="9.80" font-size="14" text-anchor="end" stroke="#000" stroke-width="0.2">0.6</text>
<text x="283" y="291.2" font-size="17.5" text-anchor="middle" stroke="#000" stroke-width="0.2">λ / Å</text>
<text transform="translate(9.3,135.0) rotate(-90)" font-size="15.5" stroke="#000" stroke-width="0.5">σ</text>
<text transform="translate(14.3,125.7) rotate(-90)" font-size="10.5" font-style="italic" stroke="#000" stroke-width="0.3">rel</text>
<text x="172.2" y="31.4" font-size="7" fill="#ff0000" stroke="#ff0000" stroke-width="0.25">12</text><text x="178.2" y="35.9" font-size="11" fill="#ff0000" stroke="#ff0000" stroke-width="0.25">C</text><text x="186.1" y="40.2" font-size="7" fill="#ff0000" stroke="#ff0000" stroke-width="0.25">60</text><text x="193.7" y="29.9" font-size="6" fill="#ff0000" stroke="#ff0000" stroke-width="0.25">+</text><text x="196.9" y="35.9" font-size="11" fill="#ff0000" stroke="#ff0000" stroke-width="0.25"><tspan dy="-0.6">---</tspan><tspan dy="0.6">He</tspan></text>
<text x="433.5" y="153.0" font-size="7" fill="#0000ff" stroke="#0000ff" stroke-width="0.25">12</text><text x="439.4" y="157.6" font-size="11" fill="#0000ff" stroke="#0000ff" stroke-width="0.25">C</text><text x="447.3" y="161.9" font-size="7" fill="#0000ff" stroke="#0000ff" stroke-width="0.25">59</text><text x="454.8" y="153.0" font-size="7" fill="#0000ff" stroke="#0000ff" stroke-width="0.25">13</text><text x="460.4" y="157.6" font-size="11" fill="#0000ff" stroke="#0000ff" stroke-width="0.25">C</text><text x="468.8" y="161.9" font-size="7" fill="#0000ff" stroke="#0000ff" stroke-width="0.25">1</text><text x="472.8" y="152.3" font-size="6" fill="#0000ff" stroke="#0000ff" stroke-width="0.25">+</text><text x="475.6" y="157.6" font-size="11" fill="#0000ff" stroke="#0000ff" stroke-width="0.25"><tspan dy="-0.6">---</tspan><tspan dy="0.6">He</tspan></text>
<text x="80.5" y="191.6" font-size="7" fill="#000000" stroke="#000000" stroke-width="0.25">12</text><text x="86.8" y="196.8" font-size="11" fill="#000000" stroke="#000000" stroke-width="0.25">C</text><text x="94.5" y="200.7" font-size="7" fill="#000000" stroke="#000000" stroke-width="0.25">58</text><text x="102.9" y="191.4" font-size="7" fill="#000000" stroke="#000000" stroke-width="0.25">13</text><text x="108.4" y="197.2" font-size="11" fill="#000000" stroke="#000000" stroke-width="0.25">C</text><text x="116.1" y="200.7" font-size="7" fill="#000000" stroke="#000000" stroke-width="0.25">2</text><text x="119.6" y="191.0" font-size="6" fill="#000000" stroke="#000000" stroke-width="0.25">+</text><text x="123.3" y="196.8" font-size="11" fill="#000000" stroke="#000000" stroke-width="0.25"><tspan dy="-0.6">---</tspan><tspan dy="0.6">He</tspan></text>
</svg>
</body></html>
